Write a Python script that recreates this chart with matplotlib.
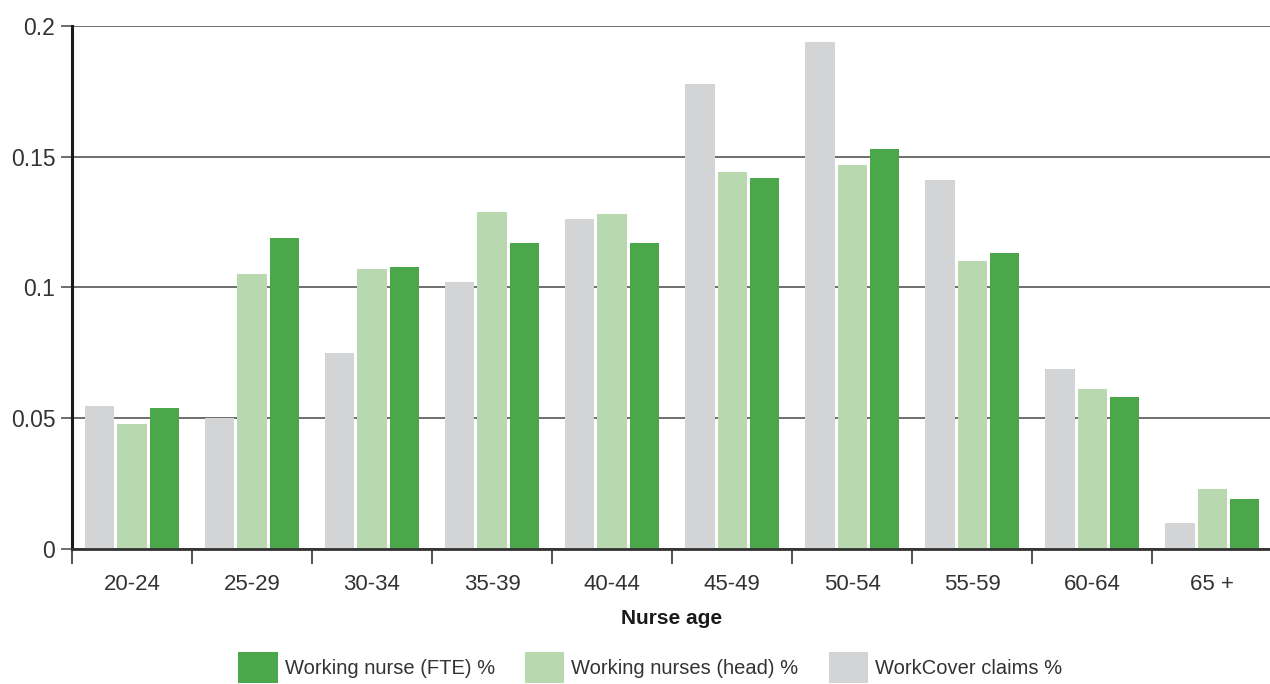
import matplotlib.pyplot as plt
import numpy as np

plt.rcParams['font.family'] = ['Liberation Sans', 'DejaVu Sans']

ages = ['20-24', '25-29', '30-34', '35-39', '40-44', '45-49', '50-54', '55-59', '60-64', '65 +']
claims = [0.0547, 0.050, 0.075, 0.102, 0.126, 0.178, 0.194, 0.141, 0.069, 0.010]
head = [0.0478, 0.105, 0.107, 0.129, 0.128, 0.144, 0.147, 0.110, 0.061, 0.023]
fte = [0.054, 0.119, 0.108, 0.117, 0.117, 0.142, 0.153, 0.113, 0.058, 0.019]

green = '#4aa84a'
light = '#b8d9b0'
grey = '#d3d4d6'
txt = '#333333'

fig = plt.figure(figsize=(12.7, 6.84), dpi=100)
ax = fig.add_axes([0.0567, 0.1974, 0.9449, 0.7646])

x = np.arange(len(ages))
step = 0.267
w = 0.242
ax.bar(x - step, claims, w, color=grey, label='WorkCover claims %', zorder=3)
ax.bar(x, head, w, color=light, label='Working nurses (head) %', zorder=3)
ax.bar(x + step, fte, w, color=green, label='Working nurse (FTE) %', zorder=3)

ax.set_xlim(-0.5, 9.5)
ax.set_ylim(0, 0.2)
ax.set_yticks([0, 0.05, 0.1, 0.15, 0.2])
ax.set_yticklabels(['0', '0.05', '0.1', '0.15', '0.2'])
ax.yaxis.grid(True, color='#555555', linewidth=1.2)
ax.set_axisbelow(True)

ax.set_xticks(x)
ax.set_xticklabels(ages)
ax.set_xticks(np.arange(-0.5, 10, 1), minor=True)
ax.tick_params(axis='x', which='major', length=0, pad=18, labelsize=16, labelcolor=txt)
ax.tick_params(axis='x', which='minor', direction='out', length=11, width=1.2, color='#333333')
ax.tick_params(axis='y', length=8, width=1.2, color='#555555', pad=4, labelsize=16.5, labelcolor=txt)

for s in ['top', 'right']:
    ax.spines[s].set_visible(False)
ax.spines['left'].set_linewidth(2.2)
ax.spines['left'].set_color('#1a1a1a')
ax.spines['bottom'].set_linewidth(2)
ax.spines['bottom'].set_color('#333333')
ax.spines['left'].set_zorder(4)
ax.spines['bottom'].set_zorder(4)

ax.set_xlabel('Nurse age', fontsize=15, fontweight='bold', color='#1a1a1a', labelpad=10)

handles, labels = ax.get_legend_handles_labels()
fig.legend(handles[::-1], labels[::-1], ncol=3, loc='center', bbox_to_anchor=(0.512, 0.024),
           frameon=False, fontsize=14.5, handlelength=1.95, handleheight=1.95,
           handletextpad=0.35, columnspacing=1.5, labelcolor=txt)

fig.savefig('out.png', dpi=100)
